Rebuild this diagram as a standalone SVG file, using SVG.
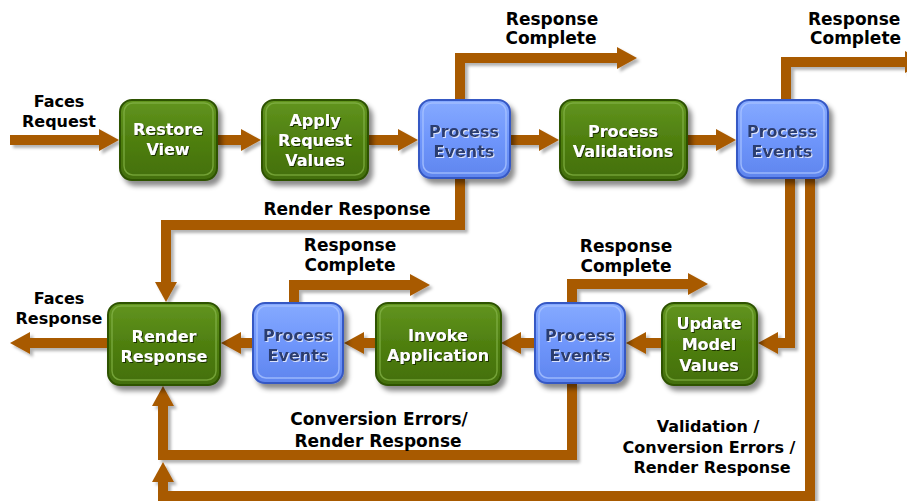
<svg xmlns="http://www.w3.org/2000/svg" width="907" height="501" viewBox="0 0 907 501">
<style>
.lbl{font-family:"DejaVu Sans","Liberation Sans",sans-serif;font-weight:bold;font-size:17px;fill:#000;text-anchor:middle}
.lbl2{font-family:"DejaVu Sans","Liberation Sans",sans-serif;font-weight:bold;font-size:16px;fill:#000;text-anchor:middle}
.nt{font-family:"DejaVu Sans","Liberation Sans",sans-serif;font-weight:bold;font-size:16px;text-anchor:middle}
.g rect.b{fill:url(#gg);stroke:#2e5206;stroke-width:2}
.g rect.h{fill:none;stroke:#86b54a;stroke-width:1.5;stroke-opacity:0.7}
.g text{fill:#fff;filter:url(#ts)}
.p rect.b{fill:url(#bg);stroke:#3658c4;stroke-width:2}
.p rect.h{fill:none;stroke:#a9c3ff;stroke-width:1.5;stroke-opacity:0.8}
.p text{fill:#2c3c70;filter:url(#tl)}
.node{filter:url(#ns)}
.c path{fill:none;stroke:#a85a00;stroke-width:10;stroke-linejoin:miter;marker-end:url(#ah)}
</style>
<defs>
<linearGradient id="gg" x1="0" y1="0" x2="0" y2="1">
<stop offset="0" stop-color="#62951f"/>
<stop offset="0.5" stop-color="#4f7f10"/>
<stop offset="1" stop-color="#436f08"/>
</linearGradient>
<linearGradient id="bg" x1="0" y1="0" x2="0" y2="1">
<stop offset="0" stop-color="#86aaff"/>
<stop offset="0.5" stop-color="#6f96fb"/>
<stop offset="1" stop-color="#5f85ee"/>
</linearGradient>
<filter id="ns" x="-20%" y="-20%" width="150%" height="150%">
<feDropShadow dx="4" dy="5" stdDeviation="2.5" flood-color="#000" flood-opacity="0.45"/>
</filter>
<filter id="cs" x="-5%" y="-5%" width="110%" height="110%">
<feDropShadow dx="3" dy="3" stdDeviation="1.5" flood-color="#000" flood-opacity="0.3"/>
</filter>
<filter id="ts" x="-10%" y="-20%" width="120%" height="150%">
<feDropShadow dx="1" dy="1" stdDeviation="0.4" flood-color="#1c3300" flood-opacity="1"/>
</filter>
<filter id="tl" x="-10%" y="-20%" width="120%" height="150%">
<feDropShadow dx="1" dy="1" stdDeviation="0.4" flood-color="#e6ecff" flood-opacity="0.9"/>
</filter>
<marker id="ah" viewBox="0 0 20 22" markerWidth="20" markerHeight="22" refX="1" refY="11" orient="auto" markerUnits="userSpaceOnUse">
<path d="M0,0 L20,11 L0,22 Z" fill="#a85a00"/>
</marker>
</defs>
<rect width="907" height="501" fill="#fff"/>

<g id="connectors" class="c" filter="url(#cs)">
<path d="M10,140 H100"/>
<path d="M217,140 H242"/>
<path d="M368,140 H399"/>
<path d="M510,140 H540"/>
<path d="M687,140 H717"/>
<path d="M460,100 V58 H618"/>
<path d="M786,100 V62 H906"/>
<path d="M460,178 V225 H166 V283"/>
<path d="M790,178 V343 H777"/>
<path d="M810,178 V496 H163 V481"/>
<path d="M662,343 H645"/>
<path d="M535,343 H520"/>
<path d="M376,343 H363"/>
<path d="M253,343 H240"/>
<path d="M108,343 H29"/>
<path d="M572,303 V284 H689"/>
<path d="M294,303 V285 H411"/>
<path d="M572,383 V455 H163 V405"/>
</g>

<g id="labels">
<text class="lbl2" x="59" y="107">Faces</text>
<text class="lbl2" x="59" y="127">Request</text>
<text class="lbl" x="552" y="25">Response</text>
<text class="lbl" x="551" y="44">Complete</text>
<text class="lbl" x="808" y="25" style="text-anchor:start">Response</text>
<text class="lbl" x="810" y="44" style="text-anchor:start">Complete</text>
<text class="lbl" x="347" y="215">Render Response</text>
<text class="lbl" x="350" y="251">Response</text>
<text class="lbl" x="350" y="271">Complete</text>
<text class="lbl" x="626" y="252">Response</text>
<text class="lbl" x="626" y="272">Complete</text>
<text class="lbl2" x="59" y="304">Faces</text>
<text class="lbl2" x="59" y="324">Response</text>
<text class="lbl" x="379" y="425">Conversion Errors/</text>
<text class="lbl" x="378" y="447">Render Response</text>
<text class="lbl2" x="708" y="432">Validation /</text>
<text class="lbl2" x="709" y="453">Conversion Errors /</text>
<text class="lbl2" x="712" y="473">Render Response</text>
</g>

<g id="restore-view" class="node g">
<rect class="b" x="120" y="100" width="97" height="80" rx="12"/>
<rect class="h" x="124" y="103" width="89" height="72" rx="9"/>
<text class="nt" x="168" y="135">Restore</text>
<text class="nt" x="168" y="155">View</text>
</g>
<g id="apply-request-values" class="node g">
<rect class="b" x="262" y="100" width="106" height="80" rx="12"/>
<rect class="h" x="266" y="103" width="98" height="72" rx="9"/>
<text class="nt" x="315" y="126">Apply</text>
<text class="nt" x="315" y="146">Request</text>
<text class="nt" x="315" y="166">Values</text>
</g>
<g id="process-events-1" class="node p">
<rect class="b" x="419" y="100" width="91" height="78" rx="12"/>
<rect class="h" x="423" y="103" width="83" height="70" rx="9"/>
<text class="nt" x="464" y="137">Process</text>
<text class="nt" x="464" y="157">Events</text>
</g>
<g id="process-validations" class="node g">
<rect class="b" x="560" y="100" width="127" height="80" rx="12"/>
<rect class="h" x="564" y="103" width="119" height="72" rx="9"/>
<text class="nt" x="623" y="137">Process</text>
<text class="nt" x="623" y="157">Validations</text>
</g>
<g id="process-events-2" class="node p">
<rect class="b" x="737" y="100" width="91" height="78" rx="12"/>
<rect class="h" x="741" y="103" width="83" height="70" rx="9"/>
<text class="nt" x="782" y="137">Process</text>
<text class="nt" x="782" y="157">Events</text>
</g>

<g id="render-response" class="node g">
<rect class="b" x="108" y="303" width="112" height="82" rx="12"/>
<rect class="h" x="112" y="306" width="104" height="74" rx="9"/>
<text class="nt" x="164" y="342">Render</text>
<text class="nt" x="164" y="362">Response</text>
</g>
<g id="process-events-3" class="node p">
<rect class="b" x="253" y="303" width="90" height="80" rx="12"/>
<rect class="h" x="257" y="306" width="82" height="72" rx="9"/>
<text class="nt" x="298" y="341">Process</text>
<text class="nt" x="298" y="361">Events</text>
</g>
<g id="invoke-application" class="node g">
<rect class="b" x="376" y="303" width="125" height="82" rx="12"/>
<rect class="h" x="380" y="306" width="117" height="74" rx="9"/>
<text class="nt" x="438" y="341">Invoke</text>
<text class="nt" x="438" y="361">Application</text>
</g>
<g id="process-events-4" class="node p">
<rect class="b" x="535" y="303" width="90" height="80" rx="12"/>
<rect class="h" x="539" y="306" width="82" height="72" rx="9"/>
<text class="nt" x="580" y="341">Process</text>
<text class="nt" x="580" y="361">Events</text>
</g>
<g id="update-model-values" class="node g">
<rect class="b" x="662" y="303" width="95" height="82" rx="12"/>
<rect class="h" x="666" y="306" width="87" height="74" rx="9"/>
<text class="nt" x="709" y="329">Update</text>
<text class="nt" x="709" y="350">Model</text>
<text class="nt" x="709" y="371">Values</text>
</g>
</svg>
